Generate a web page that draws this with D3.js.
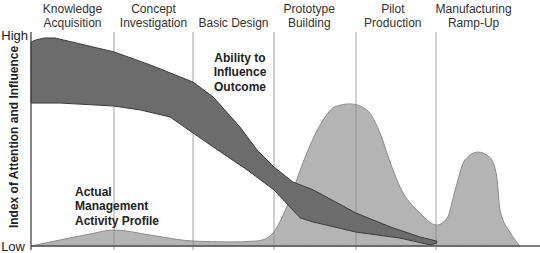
<!DOCTYPE html>
<html>
<head>
<meta charset="utf-8">
<script src="https://cdn.jsdelivr.net/npm/d3@7"></script>
<style>
  body { margin: 0; background: #fff; }
  svg { display: block; font-family: "Liberation Sans", Arial, sans-serif; }
</style>
</head>
<body>
<script>
// phases of the development timeline (x in phase units, 0..6.3)
const phases = [
  ["Knowledge", "Acquisition"],
  ["Concept", "Investigation"],
  ["", "Basic Design"],
  ["Prototype", "Building"],
  ["Pilot", "Production"],
  ["Manufacturing", "Ramp-Up"]
];
const phaseLabelAt = [0.5, 1.5, 2.5, 3.43, 4.46, 5.47];
const phaseBounds = [1, 2, 3, 4, 5];

// ability to influence outcome - upper and lower edge of the band (index 0-100)
const abilityTop = [
  [0, 95.3], [0.06, 96.3], [0.16, 97.2], [0.29, 97.2], [1.0, 90.7], [1.46, 84.6],
  [2.0, 76.6], [2.25, 69.6], [2.58, 55.6], [2.79, 44.9], [3.0, 36.9], [3.23, 29.9],
  [3.48, 26.2], [4.0, 15.4], [4.43, 8.9], [4.8, 4.2], [5.01, 2.3]
];
const abilityBottom = [
  [0, 66.8], [0.35, 66.8], [1.0, 65.4], [1.33, 63.6], [1.71, 60.3], [2.0, 52.8],
  [2.25, 46.3], [2.67, 35.5], [3.0, 26.2], [3.32, 13.1], [3.48, 11.2], [4.0, 6.5],
  [4.55, 3.7], [4.93, 0.5], [5.01, 1.4]
];

// actual management activity profile
const activity = [
  [0, 0], [0.35, 2.8], [0.71, 5.6], [1.0, 7.5], [1.46, 5.1], [2.0, 2.3], [2.46, 1.9],
  [2.77, 2.3], [2.89, 3.3], [2.99, 6.1], [3.07, 11.2], [3.2, 22.4], [3.32, 35.5],
  [3.48, 50.5], [3.6, 58.9], [3.74, 65.0], [3.93, 66.4], [4.05, 65.4], [4.18, 61.7],
  [4.3, 52.8], [4.43, 38.8], [4.55, 27.6], [4.8, 15.4], [5.01, 9.8], [5.14, 13.1],
  [5.24, 26.2], [5.36, 40.2], [5.53, 43.9], [5.68, 41.1], [5.76, 32.2], [5.8, 16.8],
  [5.93, 6.1], [6.05, 0]
];

const yTicks = [0, 100];
const yTickLabels = ["Low", "High"];

const width = 540, height = 253;

const x = d3.scaleLinear()
  .domain([0, 1, 2, 3, 4, 5, 6.3])
  .range([31, 114, 193, 274, 356, 436, 540]);
const y = d3.scaleLinear().domain([0, 100]).range([246, 32]);

const svg = d3.select("body").append("svg")
  .attr("width", width)
  .attr("height", height);

// activity profile area
const area = d3.area()
  .x(d => x(d[0]))
  .y0(y(0))
  .y1(d => y(d[1]))
  .curve(d3.curveMonotoneX);

svg.append("path")
  .datum(activity)
  .attr("d", area)
  .attr("fill", "#b4b4b4")
  .attr("stroke", "#8c8c8c")
  .attr("stroke-width", 1);

// phase dividers
svg.append("g")
  .selectAll("line")
  .data(phaseBounds)
  .join("line")
    .attr("x1", d => x(d)).attr("x2", d => x(d))
    .attr("y1", y(100)).attr("y2", y(0) + 4)
    .attr("stroke", "#8a8a8a")
    .attr("stroke-width", 0.8);

// ability band: top edge left->right, bottom edge right->left
const band = d3.line()
  .x(d => x(d[0]))
  .y(d => y(d[1]));

svg.append("path")
  .attr("d", band(abilityTop.concat(abilityBottom.slice().reverse())) + "Z")
  .attr("fill", "#6c6c6c")
  .attr("stroke", "#3c3c3c")
  .attr("stroke-width", 1);

// axes
svg.append("line")
  .attr("x1", x(0)).attr("x2", x(0))
  .attr("y1", y(100)).attr("y2", y(0) + 4)
  .attr("stroke", "#444").attr("stroke-width", 1.3);

svg.append("line")
  .attr("x1", x(0)).attr("x2", width)
  .attr("y1", y(0)).attr("y2", y(0))
  .attr("stroke", "#555").attr("stroke-width", 1.5);

const yAxis = svg.append("g")
  .attr("transform", `translate(${x(0) - 3},0)`)
  .call(d3.axisLeft(y).tickValues(yTicks).tickSize(0)
    .tickFormat((d, i) => yTickLabels[i]));
yAxis.select(".domain").remove();
yAxis.selectAll("text")
  .attr("x", 0)
  .attr("font-family", "Liberation Sans, Arial, sans-serif")
  .attr("font-size", 13)
  .attr("fill", "#222");
yAxis.selectAll(".tick").filter(d => d === 100).select("text").attr("dy", "0.55em");
yAxis.selectAll(".tick").filter(d => d === 0).select("text").attr("x", -3);

svg.append("text")
  .attr("transform", `translate(18,${137}) rotate(-90)`)
  .attr("text-anchor", "middle")
  .attr("font-size", 12)
  .attr("font-weight", "bold")
  .attr("fill", "#222")
  .text("Index of Attention and Influence");

// phase labels
const ph = svg.append("g")
  .selectAll("text")
  .data(phases)
  .join("text")
    .attr("text-anchor", "middle")
    .attr("font-size", 12)
    .attr("fill", "#333");
ph.append("tspan")
  .attr("x", (d, i) => x(phaseLabelAt[i]))
  .attr("y", 13)
  .text(d => d[0]);
ph.append("tspan")
  .attr("x", (d, i) => x(phaseLabelAt[i]))
  .attr("y", 27)
  .text(d => d[1]);

// series annotations
const notes = [
  { lines: ["Ability to", "Influence", "Outcome"], at: [2.58, 86], anchor: "middle" },
  { lines: ["Actual", "Management", "Activity Profile"], at: [0.53, 23.5], anchor: "start" }
];
notes.forEach(n => {
  const t = svg.append("text")
    .attr("font-size", 12)
    .attr("font-weight", "bold")
    .attr("fill", "#222")
    .attr("text-anchor", n.anchor);
  n.lines.forEach((s, i) => {
    t.append("tspan")
      .attr("x", x(n.at[0]))
      .attr("y", y(n.at[1]) + i * 14.5)
      .text(s);
  });
});
</script>
</body>
</html>
